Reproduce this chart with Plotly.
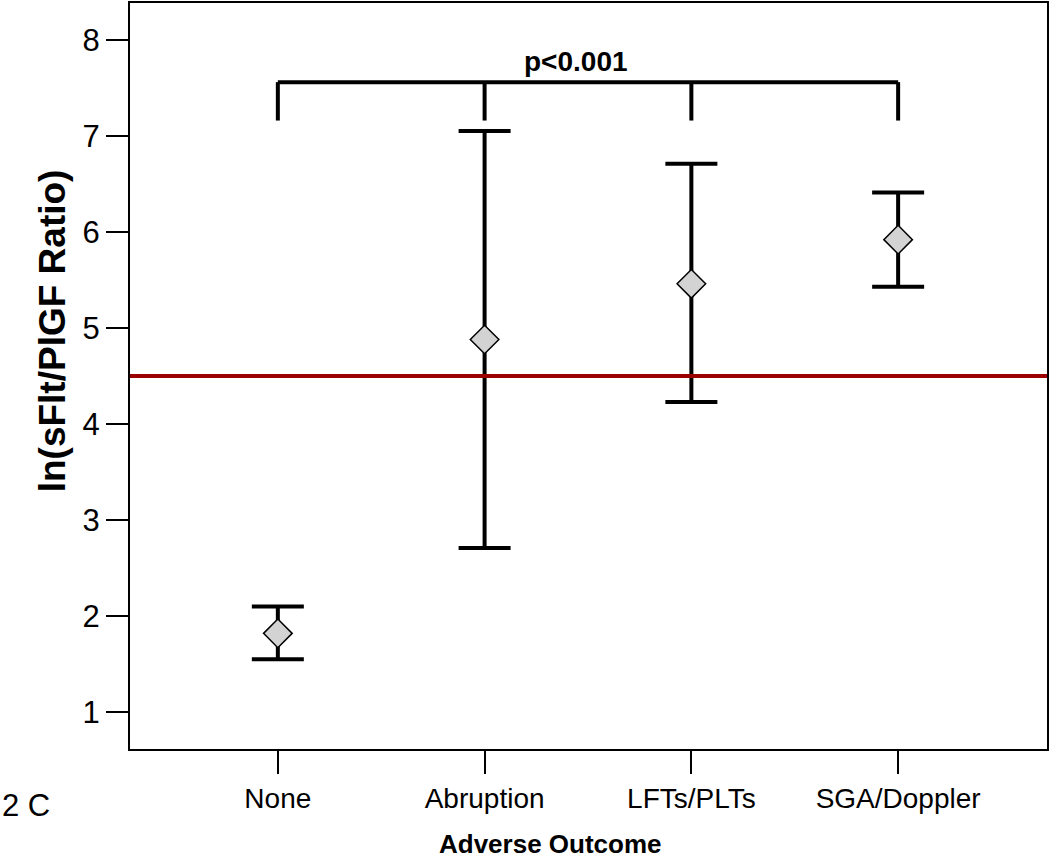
import plotly.graph_objects as go

categories = ["None", "Abruption", "LFTs/PLTs", "SGA/Doppler"]
means = [1.82, 4.88, 5.46, 5.92]
upper = [2.10, 7.05, 6.71, 6.41]
lower = [1.55, 2.71, 4.23, 5.43]
y_ticks = [1, 2, 3, 4, 5, 6, 7, 8]
cutoff = 4.5
bracket_top = 7.56
bracket_bottom = 7.16
p_text = "p<0.001"

xpos = list(range(len(categories)))
err_plus = [u - m for u, m in zip(upper, means)]
err_minus = [m - l for m, l in zip(means, lower)]

FONT = "Liberation Sans, Arial"

fig = go.Figure()
fig.add_trace(go.Scatter(
    x=xpos, y=means, mode="markers",
    marker=dict(symbol="diamond", size=22, color="#d3d3d3",
                line=dict(color="black", width=1.5)),
    error_y=dict(type="data", symmetric=False, array=err_plus, arrayminus=err_minus,
                 color="black", thickness=4, width=26),
    showlegend=False,
))

# cutoff line
fig.add_shape(type="line", xref="paper", yref="y", x0=0, x1=1, y0=cutoff, y1=cutoff,
              line=dict(color="#9b0000", width=4))
# bracket
fig.add_shape(type="line", xref="x", yref="y", x0=xpos[0], x1=xpos[-1],
              y0=bracket_top, y1=bracket_top, line=dict(color="black", width=4))
for xp in xpos:
    fig.add_shape(type="line", xref="x", yref="y", x0=xp, x1=xp,
                  y0=bracket_bottom, y1=bracket_top, line=dict(color="black", width=4))
fig.add_annotation(x=1.44, y=bracket_top, yshift=3, text="<b>" + p_text + "</b>",
                   showarrow=False, yanchor="bottom",
                   font=dict(family=FONT, size=28, color="black"))
fig.add_annotation(xref="paper", yref="paper", x=-0.1416, y=-0.0762, xanchor="left",
                   yanchor="middle", text="2 C", showarrow=False,
                   font=dict(family=FONT, size=31, color="black"))
# axis titles as annotations (placed off-centre like the reference)
fig.add_annotation(xref="paper", yref="paper", x=-0.085, y=0.56, xanchor="center",
                   yanchor="middle", textangle=-90, text="<b>ln(sFlt/PlGF Ratio)</b>",
                   showarrow=False, font=dict(family=FONT, size=37, color="black"))
fig.add_annotation(xref="paper", yref="paper", x=0.459, y=-0.1497, xanchor="center",
                   yanchor="bottom", text="<b>Adverse Outcome</b>",
                   showarrow=False, font=dict(family=FONT, size=26, color="black"))

fig.update_xaxes(range=[-0.715, 3.72], tickvals=xpos, ticktext=categories,
                 showgrid=False, zeroline=False, showline=True, linecolor="black",
                 linewidth=2, mirror=True, ticks="outside", ticklen=23, tickwidth=2,
                 tickcolor="black", tickfont=dict(size=28, color="black"))
fig.update_yaxes(range=[0.616, 8.384], tickvals=y_ticks, showgrid=False, zeroline=False,
                 showline=True, linecolor="black", linewidth=2, mirror=True,
                 ticks="outside", ticklen=22, tickwidth=2, tickcolor="black",
                 tickfont=dict(size=31, color="black"))

fig.update_layout(width=1050, height=861, margin=dict(l=130, r=2, t=1, b=112),
                  plot_bgcolor="white", paper_bgcolor="white",
                  font=dict(family=FONT, color="black"))
fig.write_html("out.html", config={"displayModeBar": False},
               post_script="document.body.style.margin='0';document.body.style.overflow='hidden';")
